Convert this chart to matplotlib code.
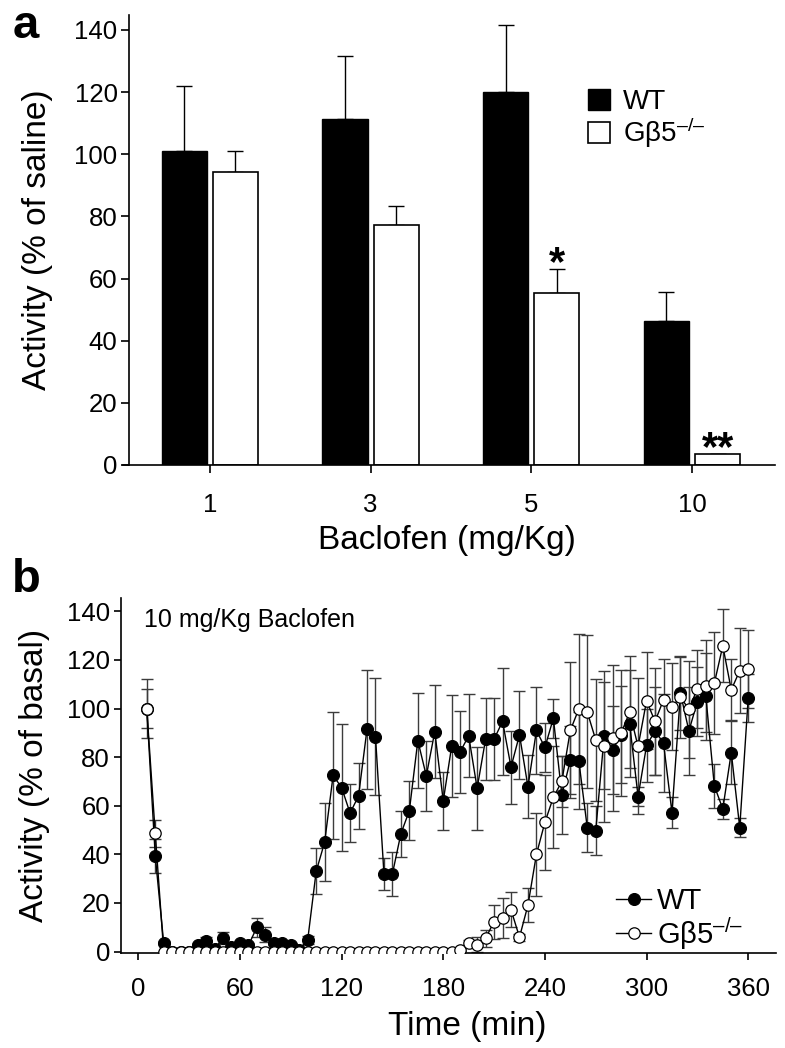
import numpy as np
import matplotlib
matplotlib.use("Agg")
import matplotlib.pyplot as plt
from matplotlib.patches import Patch

plt.rcParams['font.family'] = ['Liberation Sans', 'DejaVu Sans']
plt.rcParams['mathtext.fontset'] = 'custom'
plt.rcParams['mathtext.rm'] = 'Liberation Sans'
plt.rcParams['mathtext.default'] = 'rm'

# ---------------- Panel a data ----------------
doses = ["1", "3", "5", "10"]
wt_bar = [101, 111.3, 120, 46.4]
wt_bar_err = [20.8, 20.3, 21.5, 9.4]
ko_bar = [94.3, 77.2, 55.5, 3.4]
ko_bar_err = [6.8, 6.2, 7.5, 0.3]
ko_sig = ["", "", "*", "**"]

# ---------------- Panel b data ----------------
time_min = list(range(5, 365, 5))
wt_time = [100, 39.5, 3.5, 0, 0, 0, 2.5, 4.5, 1, 5.5,
           2, 3.5, 2.5, 10, 7, 3.5, 3.5, 2.5, 0.5, 4.8,
           33, 45, 72.5, 67.5, 57, 64, 91.5, 88.5, 32, 32,
           48.5, 58, 86.8, 72.3, 90.5, 62, 84.6, 82.2, 88.8, 67.2,
           87.4, 87.4, 94.7, 75.9, 89.2, 67.8, 91, 84, 96, 64.5,
           78.7, 78.6, 51, 49.7, 88.9, 83, 89.2, 93.7, 63.8, 84.8,
           90.8, 85.8, 57.2, 106.3, 90.8, 102.9, 105, 68.2, 58.7, 81.9,
           51, 104.4]
wt_time_err = [8, 7, 1, 0, 0, 0, 1, 1.5, 0, 2.5,
               0.5, 1, 1, 4, 3, 1, 1, 1, 0, 1.5,
               9.5, 16, 26, 26, 12, 13.5, 24.5, 24, 6.5, 9,
               9.5, 12, 19.5, 14.5, 19, 12, 21, 17, 17, 17,
               17, 17, 22, 15, 18, 13, 18, 10, 8, 16,
               14, 20, 10, 10, 22, 18, 20, 22, 4, 15,
               18, 20, 6.5, 15, 18, 14, 18, 9, 4, 13,
               4, 10]
ko_time = [100, 48.7] + [0] * 35 + [
           0.7, 3.7, 2.8, 5.5, 12.3, 13.7, 17.2, 5.9, 19.1, 40,
           53.2, 63.5, 70, 91, 99.8, 98.6, 87.1, 84.4, 87.8, 89.9,
           98.5, 84.4, 103.2, 94.7, 103.6, 100.8, 104.7, 99.7, 108.2, 109.3,
           110.4, 125.8, 107.7, 115.6, 116.3]
ko_time_err = [12, 5.5] + [0] * 35 + [
               0.5, 1, 3, 3.5, 7, 8.3, 7.2, 1.5, 7, 17,
               19.5, 21, 10.5, 28, 31, 31.5, 25, 31, 30, 26,
               23, 28, 20, 22, 17, 18, 17, 20, 16, 19,
               21, 15, 12.6, 17.5, 16]

W, H = 785, 1048
fig = plt.figure(figsize=(W / 100, H / 100), dpi=100)

def fx(px):
    return px / W

def fy(py):
    return 1 - py / H

TICK_FS = 18.5
LABEL_FS = 24
KO_LABEL = 'G\u03b25$^{\u2013/\u2013}$'

# ---------------- Panel a ----------------
axa = fig.add_axes([fx(123), fy(465), fx(775) - fx(123), fy(15) - fy(465)])
xpos = np.arange(len(doses))
bw = 0.28
off = 0.159
axa.bar(xpos - off, wt_bar, bw, color='black', edgecolor='black', linewidth=1, zorder=2)
axa.bar(xpos + off, ko_bar, bw, color='white', edgecolor='black', linewidth=1.2, zorder=2)
axa.errorbar(xpos - off, wt_bar, yerr=[np.zeros(len(wt_bar)), wt_bar_err], fmt='none',
             ecolor='black', elinewidth=1, capsize=5.5, capthick=1, zorder=1)
axa.errorbar(xpos + off, ko_bar, yerr=[np.zeros(len(ko_bar)), ko_bar_err], fmt='none',
             ecolor='black', elinewidth=1, capsize=5.5, capthick=1, zorder=1)
for i, s in enumerate(ko_sig):
    if s:
        axa.annotate(s, (xpos[i] + off, ko_bar[i] + ko_bar_err[i]), xytext=(0, -4.5),
                     textcoords='offset points', ha='center', va='baseline',
                     fontsize=30, fontweight='bold')
axa.set_xlim(-0.54, 3.516)
axa.set_ylim(0, 144.8)
axa.set_yticks(range(0, 141, 20))
axa.set_xticks(xpos)
axa.set_xticklabels(doses)
axa.spines['top'].set_visible(False)
axa.spines['right'].set_visible(False)
axa.spines['left'].set_position(('data', -0.5))
for sp in ['left', 'bottom']:
    axa.spines[sp].set_linewidth(1.2)
axa.tick_params(axis='y', direction='out', length=5.5, width=1.2, labelsize=TICK_FS, pad=3)
axa.tick_params(axis='x', direction='out', length=6, width=1.2, labelsize=TICK_FS, pad=14)
axa.set_ylabel('Activity (% of saline)', fontsize=LABEL_FS, ha='center', va='center',
               rotation_mode='default')
axa.yaxis.set_label_coords((37 - 123) / 652, 0.5)
axa.set_xlabel('Baclofen (mg/Kg)', fontsize=LABEL_FS, ha='center', va='center')
axa.xaxis.set_label_coords((447 - 123) / 652, -(541 - 465) / 450)

axa.legend(handles=[Patch(facecolor='black', edgecolor='black', label='WT'),
                    Patch(facecolor='white', edgecolor='black', linewidth=1.2,
                          label=KO_LABEL)],
           loc='upper left', bbox_to_anchor=(fx(588), fy(89)),
           bbox_transform=fig.transFigure, frameon=False, fontsize=20,
           handlelength=0.8, handleheight=0.8, handletextpad=0.45,
           labelspacing=0.02, borderpad=0, borderaxespad=0)

fig.text(fx(26), fy(26), 'a', fontsize=34, fontweight='bold', ha='center', va='center')

# ---------------- Panel b ----------------
axb = fig.add_axes([fx(121), fy(953), fx(776) - fx(121), fy(598) - fy(953)])
ecol = '#3c3c3c'
axb.errorbar(time_min, wt_time, yerr=wt_time_err, fmt='none', ecolor=ecol,
             elinewidth=1, capsize=4, capthick=1, zorder=1)
axb.errorbar(time_min, ko_time, yerr=ko_time_err, fmt='none', ecolor=ecol,
             elinewidth=1, capsize=4, capthick=1, zorder=1)
axb.plot(time_min, wt_time, '-o', color='black', lw=1, markersize=8.6,
         markerfacecolor='black', markeredgecolor='black', markeredgewidth=0.8,
         zorder=3, label='WT')
axb.plot(time_min, ko_time, '-o', color='black', lw=1, markersize=8.2,
         markerfacecolor='white', markeredgecolor='black', markeredgewidth=0.9,
         zorder=4, label=KO_LABEL)
axb.set_xlim(-10.2, 376.4)
axb.set_ylim(-0.6, 145.5)
axb.set_xticks(range(0, 361, 60))
axb.set_yticks(range(0, 141, 20))
axb.spines['top'].set_visible(False)
axb.spines['right'].set_visible(False)
for sp in ['left', 'bottom']:
    axb.spines[sp].set_linewidth(1.2)
axb.tick_params(axis='y', direction='out', length=5, width=1.2, labelsize=TICK_FS, pad=3)
axb.tick_params(axis='x', direction='out', length=5, width=1.2, labelsize=TICK_FS, pad=12)
axb.set_ylabel('Activity (% of basal)', fontsize=LABEL_FS, ha='center', va='center',
               rotation_mode='default')
axb.yaxis.set_label_coords((35 - 121) / 655, 0.5)
axb.set_xlabel('Time (min)', fontsize=LABEL_FS, ha='center', va='center')
axb.xaxis.set_label_coords((467 - 121) / 655, -(1026 - 953) / 355)
axb.text(fx(144), fy(626.5), '10 mg/Kg Baclofen', transform=fig.transFigure,
         fontsize=18, ha='left', va='baseline')
axb.legend(loc='upper left', bbox_to_anchor=(fx(616), fy(887)),
           bbox_transform=fig.transFigure, frameon=False, fontsize=21,
           handlelength=1.2, handletextpad=0.2, labelspacing=0.0,
           borderpad=0, borderaxespad=0)

fig.text(fx(26), fy(580), 'b', fontsize=34, fontweight='bold', ha='center', va='center')

fig.savefig('out.png', dpi=100)
